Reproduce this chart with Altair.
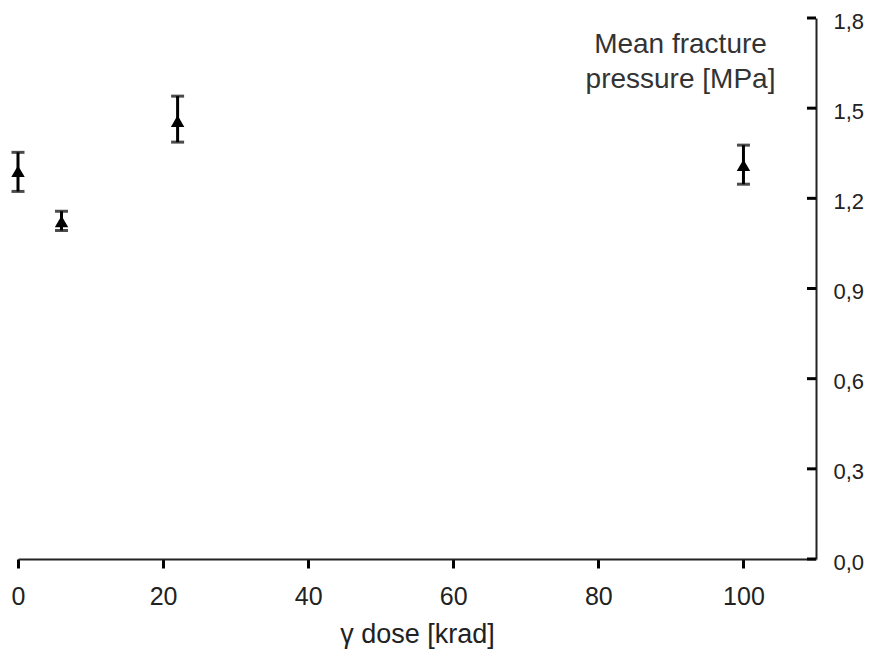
import altair as alt
import pandas as pd

dose = [0, 6, 22, 100]
pressure = [1.29, 1.123, 1.457, 1.31]
err_low = [1.223, 1.093, 1.387, 1.247]
err_high = [1.353, 1.157, 1.54, 1.377]
y_ticks = [0.0, 0.3, 0.6, 0.9, 1.2, 1.5, 1.8]
x_ticks = [0, 20, 40, 60, 80, 100]

df = pd.DataFrame({"dose": dose, "p": pressure, "lo": err_low, "hi": err_high})
ticks_df = pd.DataFrame({"t": y_ticks})

W, H = 798, 541
FONT = "Liberation Sans"

xs = alt.Scale(domain=[0, 110], nice=False, zero=False)
ys = alt.Scale(domain=[0, 1.8], nice=False)

x_axis = alt.Axis(
    values=x_ticks, grid=False, tickSize=9, tickWidth=3, tickColor="black",
    domainColor="#222", domainWidth=2, labelFont=FONT, labelFlush=False,
    labelFontSize=25, labelColor="#222", labelPadding=16,
    title="γ dose [krad]", titleFont=FONT, titleFontSize=27,
    titleFontWeight="normal", titleColor="#222", titlePadding=12,
)
y_axis = alt.Axis(
    orient="right", values=y_ticks, grid=False, ticks=False, tickSize=0,
    domainColor="#222", domainWidth=2, labelFont=FONT, labelFlush=False,
    labelFontSize=22, labelColor="#222", labelPadding=17, labelOffset=3,
    labelExpr="replace(format(datum.value, '.1f'), '.', ',')",
    title=["Mean fracture", "pressure [MPa]"], titleAngle=0,
    titleAlign="center", titleBaseline="top", titleX=-136, titleY=12,
    titleFont=FONT, titleFontSize=28, titleFontWeight="normal",
    titleColor="#333", titleLineHeight=35,
)

base = alt.Chart(df)

bars = base.mark_rule(color="black", strokeWidth=3).encode(
    x=alt.X("dose:Q", scale=xs, axis=x_axis),
    y=alt.Y("lo:Q", scale=ys, axis=y_axis),
    y2="hi:Q",
)
cap_lo = base.mark_tick(color="black", orient="horizontal", size=13, thickness=3).encode(
    x=alt.X("dose:Q", scale=xs), y=alt.Y("lo:Q", scale=ys)
)
cap_hi = base.mark_tick(color="black", orient="horizontal", size=13, thickness=3).encode(
    x=alt.X("dose:Q", scale=xs), y=alt.Y("hi:Q", scale=ys)
)
pts = base.mark_point(shape="triangle-up", filled=True, color="black", size=180, opacity=1).encode(
    x=alt.X("dose:Q", scale=xs), y=alt.Y("p:Q", scale=ys)
)
yt = alt.Chart(ticks_df).mark_rule(color="black", strokeWidth=3).encode(
    y=alt.Y("t:Q", scale=ys), x=alt.value(W - 9), x2=alt.value(W)
)

chart = alt.layer(bars, cap_lo, cap_hi, pts, yt).properties(
    width=W, height=H,
    background="white",
    autosize=alt.AutoSizeParams(type="none"),
    padding={"left": 10, "top": 10, "right": 50, "bottom": 91},
).configure_view(stroke=None)

chart.save("out.html", embed_options={"renderer": "svg", "actions": False})
